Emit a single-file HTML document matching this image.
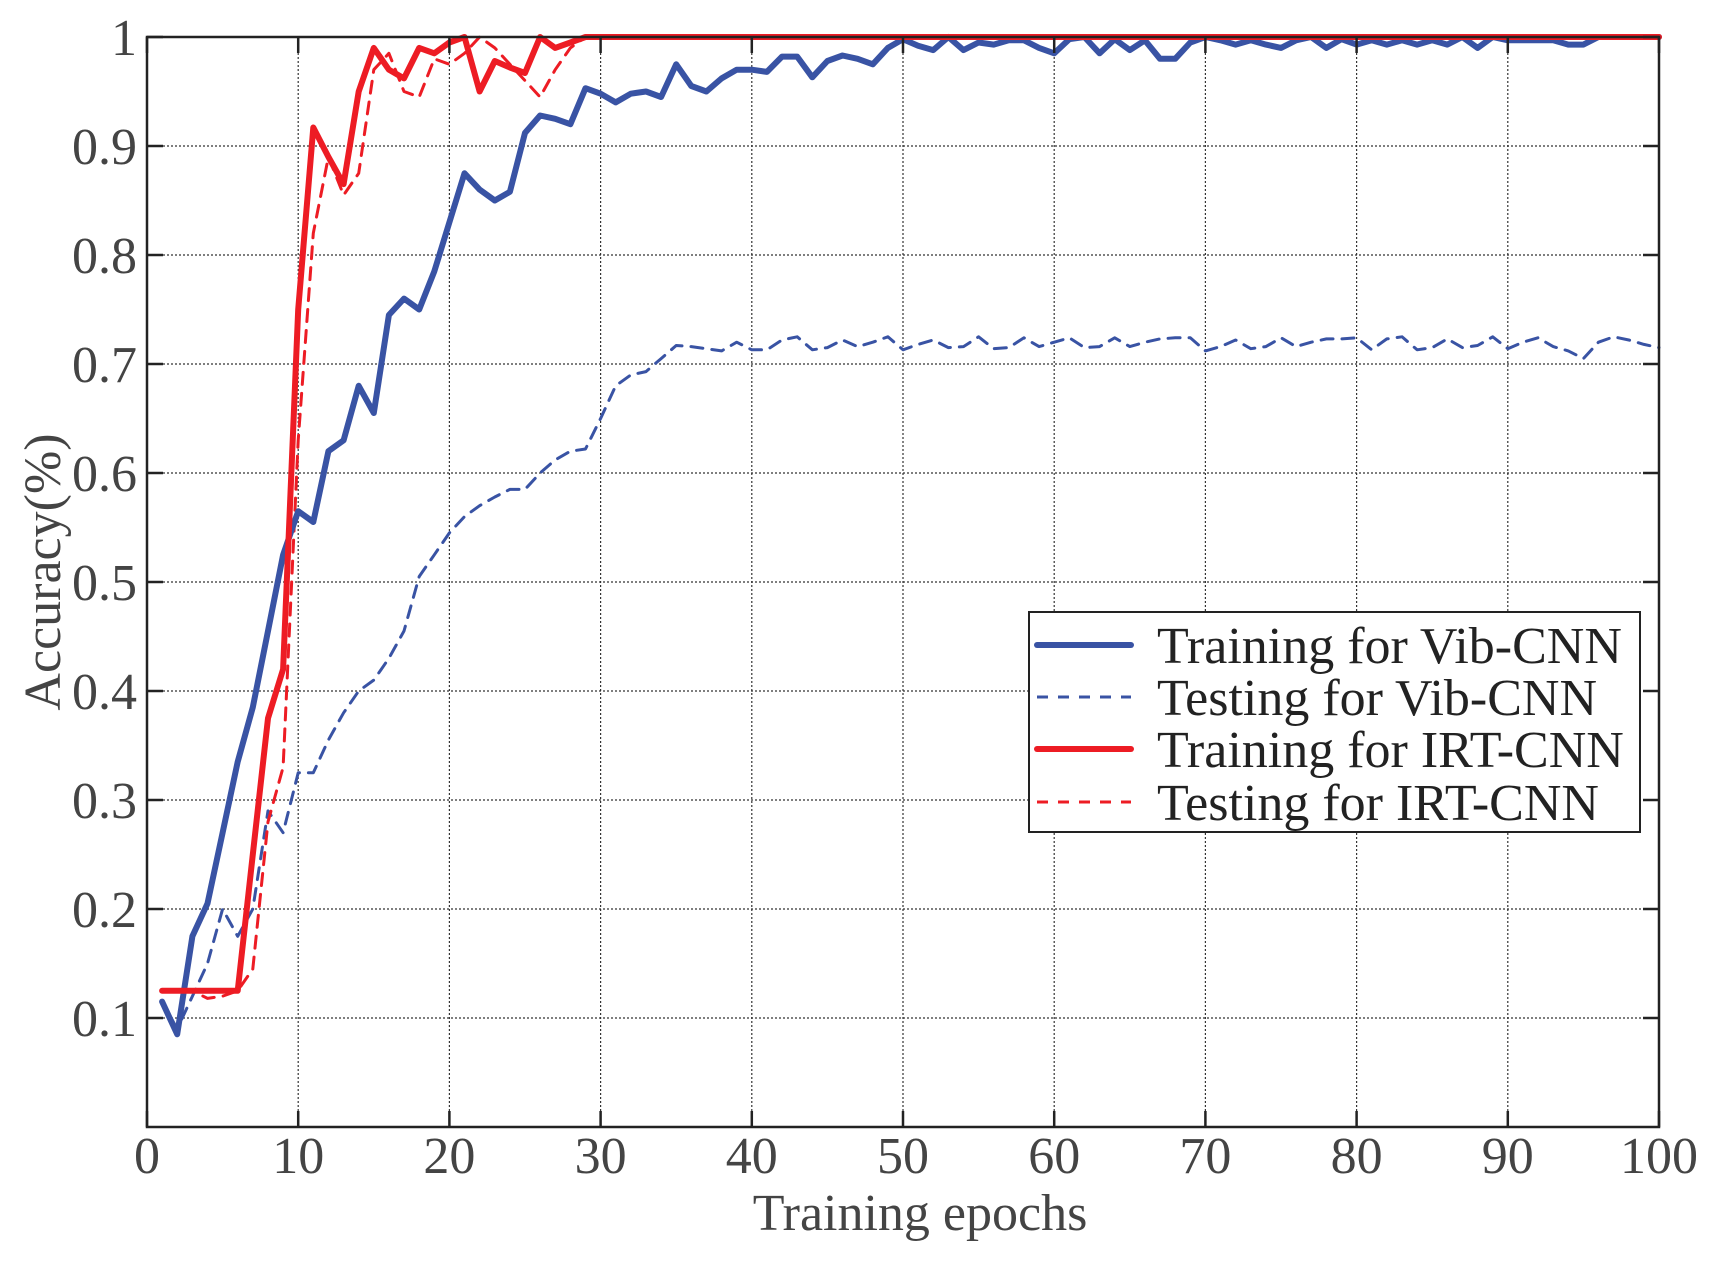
<!DOCTYPE html>
<html><head><meta charset="utf-8"><style>
html,body{margin:0;padding:0;background:#fff;}
svg text{font-family:"Liberation Serif",serif;}
</style></head><body>
<svg id="chart" width="1710" height="1265" viewBox="0 0 1710 1265" xmlns="http://www.w3.org/2000/svg">
<g id="grid"></g>
<g id="series"></g>
<rect x="147" y="37" width="1512" height="1090" fill="none" stroke="#222" stroke-width="2.5"/>
<g id="ticks"></g>
<text x="920" y="1230" font-size="52" fill="#444" text-anchor="middle">Training epochs</text>
<text transform="translate(60,572) rotate(-90)" font-size="52" fill="#444" text-anchor="middle">Accuracy(%)</text>
<g id="legend">
<rect x="1029" y="612" width="611" height="220" fill="#fff" stroke="#222" stroke-width="2"/>
</g>
</svg>
<script>
const xTicks=[0,10,20,30,40,50,60,70,80,90,100];
const yTicks=[0.1,0.2,0.3,0.4,0.5,0.6,0.7,0.8,0.9,1];
const yTickLabels=["0.1","0.2","0.3","0.4","0.5","0.6","0.7","0.8","0.9","1"];
const seriesNames=["Training for Vib-CNN","Testing for Vib-CNN","Training for IRT-CNN","Testing for IRT-CNN"];
const trainVib=[0.115,0.085,0.175,0.205,0.27,0.335,0.385,0.455,0.525,0.565,0.555,0.62,0.63,0.68,0.655,0.745,0.76,0.75,0.785,0.83,0.875,0.86,0.85,0.858,0.912,0.928,0.925,0.92,0.953,0.948,0.94,0.948,0.95,0.945,0.975,0.955,0.95,0.962,0.97,0.97,0.968,0.982,0.982,0.963,0.978,0.983,0.98,0.975,0.99,0.998,0.992,0.988,1.0,0.988,0.995,0.993,0.997,0.997,0.99,0.985,0.998,1.0,0.985,0.998,0.988,0.997,0.98,0.98,0.995,1.0,0.997,0.993,0.997,0.993,0.99,0.997,1.0,0.99,0.998,0.993,0.997,0.993,0.997,0.993,0.997,0.993,1.0,0.99,1.0,0.997,0.997,0.997,0.997,0.993,0.993,1.0,1.0,1.0,1.0,1.0];
const testVib=[0.115,0.09,0.12,0.15,0.2,0.175,0.2,0.29,0.27,0.325,0.325,0.355,0.38,0.4,0.41,0.43,0.455,0.505,0.525,0.545,0.56,0.57,0.578,0.585,0.585,0.6,0.612,0.62,0.622,0.65,0.68,0.69,0.693,0.705,0.717,0.716,0.714,0.712,0.72,0.713,0.713,0.722,0.725,0.713,0.715,0.722,0.716,0.72,0.725,0.713,0.718,0.722,0.715,0.716,0.725,0.714,0.715,0.724,0.716,0.72,0.724,0.715,0.716,0.724,0.716,0.72,0.723,0.724,0.724,0.712,0.716,0.722,0.714,0.716,0.724,0.716,0.72,0.723,0.723,0.724,0.713,0.723,0.725,0.713,0.715,0.723,0.715,0.717,0.725,0.714,0.72,0.724,0.716,0.712,0.705,0.72,0.725,0.722,0.718,0.715];
const trainIRT=[0.125,0.125,0.125,0.125,0.125,0.125,0.25,0.375,0.42,0.75,0.917,0.89,0.865,0.95,0.99,0.97,0.962,0.99,0.985,0.995,1.0,0.95,0.978,0.972,0.967,1.0,0.99,0.995,1.0,1,1,1,1,1,1,1,1,1,1,1,1,1,1,1,1,1,1,1,1,1,1,1,1,1,1,1,1,1,1,1,1,1,1,1,1,1,1,1,1,1,1,1,1,1,1,1,1,1,1,1,1,1,1,1,1,1,1,1,1,1,1,1,1,1,1,1,1,1,1,1];
const testIRT=[0.125,0.125,0.125,0.118,0.12,0.125,0.145,0.28,0.33,0.63,0.82,0.89,0.855,0.875,0.97,0.985,0.95,0.945,0.98,0.975,0.985,1.0,0.99,0.975,0.96,0.945,0.97,0.99,1.0,1,1,1,1,1,1,1,1,1,1,1,1,1,1,1,1,1,1,1,1,1,1,1,1,1,1,1,1,1,1,1,1,1,1,1,1,1,1,1,1,1,1,1,1,1,1,1,1,1,1,1,1,1,1,1,1,1,1,1,1,1,1,1,1,1,1,1,1,1,1,1];

const NS="http://www.w3.org/2000/svg";
const L=147,R=1659,T=37,B=1127;
const xs=v=>L+(v-0)/(100-0)*(R-L);
const ys=v=>B-(v-0)/(1-0)*(B-T);
function mk(tag,attrs,parent){const e=document.createElementNS(NS,tag);for(const k in attrs)e.setAttribute(k,attrs[k]);parent.appendChild(e);return e;}
const grid=document.getElementById('grid'),ticks=document.getElementById('ticks'),series=document.getElementById('series'),legend=document.getElementById('legend');

xTicks.forEach(v=>{
  const x=xs(v);
  if(v>0&&v<100){
    const g=mk('line',{x1:x,x2:x,y1:T,y2:B,stroke:'#333','stroke-width':1.2,'stroke-dasharray':'2,2'},grid);
    
    
  }
  const t1=mk('line',{x1:x,x2:x,y1:B,y2:B-16,stroke:'#222','stroke-width':2.5},ticks);
  
  
  const t2=mk('line',{x1:x,x2:x,y1:T,y2:T+16,stroke:'#222','stroke-width':2.5},ticks);
  
  
  const tx=mk('text',{x:x,y:1173,'font-size':52,fill:'#444','text-anchor':'middle'},ticks);
  tx.textContent=String(v);
  
  
});
yTicks.forEach((v,i)=>{
  const y=ys(v);
  if(v<1){
    const g=mk('line',{x1:L,x2:R,y1:y,y2:y,stroke:'#333','stroke-width':1.2,'stroke-dasharray':'2,2'},grid);
    
    
  }
  const t1=mk('line',{x1:L,x2:L+16,y1:y,y2:y,stroke:'#222','stroke-width':2.5},ticks);
  
  
  const t2=mk('line',{x1:R,x2:R-16,y1:y,y2:y,stroke:'#222','stroke-width':2.5},ticks);
  
  
  const tx=mk('text',{x:137,y:y+18,'font-size':52,fill:'#444','text-anchor':'end'},ticks);
  tx.textContent=yTickLabels[i];
  
  
});

const styles=[
 {data:trainVib,color:'#3953a4',w:6,dash:'',name:'line-training-vib'},
 {data:testVib,color:'#3953a4',w:3,dash:'12,9',name:'line-testing-vib'},
 {data:trainIRT,color:'#ed1c24',w:6,dash:'',name:'line-training-irt'},
 {data:testIRT,color:'#ed1c24',w:3,dash:'12,9',name:'line-testing-irt'}
];
const order=[1,3,0,2];
order.forEach(i=>{
  const s=styles[i];
  const pts=s.data.map((v,k)=>xs(k+1).toFixed(1)+','+ys(v).toFixed(1)).join(' ');
  const p=mk('polyline',{points:pts,fill:'none',stroke:s.color,'stroke-width':s.w,'stroke-linejoin':'round','stroke-linecap':'round','stroke-dasharray':s.dash},series);
  
  
});
const rowY=[645,697,749,802];
styles.forEach((s,i)=>{
  const ln=mk('line',{x1:1037,x2:1131,y1:rowY[i],y2:rowY[i],stroke:s.color,'stroke-width':s.w,'stroke-dasharray':s.dash?'11,10':'','stroke-linecap':s.dash?'butt':'round'},legend);
  
  
  const tx=mk('text',{x:1157,y:rowY[i]+18,'font-size':52,fill:'#222'},legend);
  tx.textContent=seriesNames[i];
  
  
});
</script>
</body></html>
